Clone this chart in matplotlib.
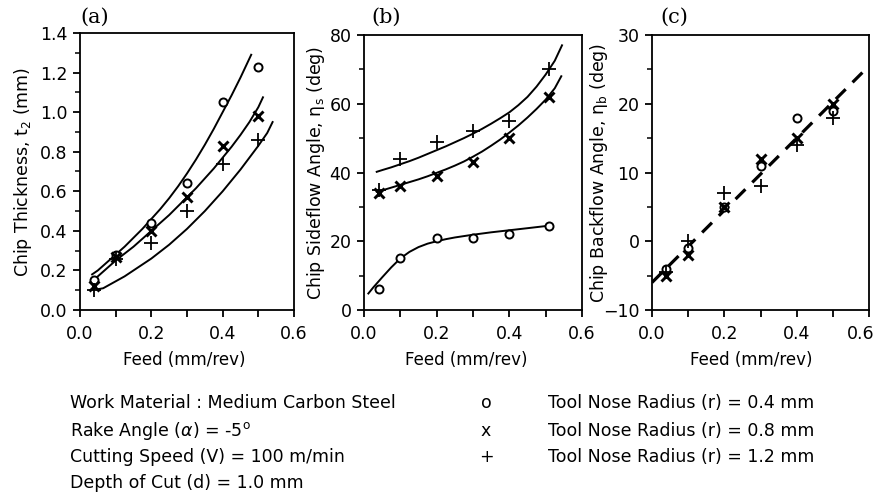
import matplotlib
matplotlib.use("Agg")
import matplotlib.pyplot as plt
import matplotlib.transforms as mtransforms
from matplotlib.ticker import MultipleLocator, FixedLocator, FixedFormatter, FuncFormatter

plt.rcParams['font.family'] = ['DejaVu Sans']
plt.rcParams['lines.scale_dashes'] = False

# ---------------- data ----------------
feed = [0.04, 0.10, 0.20, 0.30, 0.40, 0.50]
feed_b = [0.04, 0.10, 0.20, 0.30, 0.40, 0.51]

# (a) chip thickness (mm)
a_r04 = [0.15, 0.28, 0.44, 0.64, 1.05, 1.23]
a_r08 = [0.12, 0.27, 0.40, 0.57, 0.83, 0.98]
a_r12 = [0.10, 0.26, 0.34, 0.50, 0.74, 0.86]
a_fit1_x = [0.034, 0.05, 0.075, 0.10, 0.125, 0.15, 0.175, 0.20, 0.225, 0.25, 0.275,
            0.30, 0.325, 0.35, 0.375, 0.40, 0.425, 0.45, 0.48]
a_fit1_y = [0.18, 0.20, 0.24, 0.28, 0.32, 0.365, 0.41, 0.46, 0.51, 0.565, 0.625,
            0.69, 0.76, 0.835, 0.915, 1.00, 1.085, 1.175, 1.29]
a_fit2_x = [0.03, 0.05, 0.075, 0.10, 0.125, 0.15, 0.175, 0.20, 0.225, 0.25, 0.275,
            0.30, 0.325, 0.35, 0.375, 0.40, 0.425, 0.45, 0.475, 0.50, 0.513]
a_fit2_y = [0.14, 0.17, 0.21, 0.25, 0.285, 0.32, 0.36, 0.40, 0.44, 0.48, 0.525,
            0.57, 0.615, 0.665, 0.715, 0.77, 0.825, 0.885, 0.95, 1.025, 1.075]
a_fit3_x = [0.05, 0.065, 0.075, 0.10, 0.125, 0.15, 0.175, 0.20, 0.225, 0.25, 0.275,
            0.30, 0.325, 0.35, 0.375, 0.40, 0.425, 0.45, 0.475, 0.50, 0.525, 0.54]
a_fit3_y = [0.105, 0.11, 0.12, 0.145, 0.17, 0.20, 0.23, 0.26, 0.295, 0.33, 0.37,
            0.41, 0.455, 0.50, 0.55, 0.60, 0.655, 0.71, 0.77, 0.83, 0.895, 0.95]

# (b) chip sideflow angle (deg)
b_r04 = [6, 15, 21, 21, 22, 24.5]
b_r08 = [34, 36, 39, 43, 50, 62]
b_r12 = [35, 44, 49, 52, 55, 70]
b_fit12_x = [0.035, 0.05, 0.075, 0.10, 0.125, 0.15, 0.175, 0.20, 0.225, 0.25, 0.275,
             0.30, 0.325, 0.35, 0.375, 0.40, 0.425, 0.45, 0.475, 0.50, 0.525, 0.545]
b_fit12_y = [40.2, 40.7, 41.5, 42.4, 43.3, 44.3, 45.4, 46.5, 47.6, 48.8, 50.0,
             51.3, 52.7, 54.2, 55.8, 57.5, 59.6, 62.0, 65.0, 68.5, 72.5, 77.0]
b_fit08_x = [0.035, 0.05, 0.075, 0.10, 0.125, 0.15, 0.175, 0.20, 0.225, 0.25, 0.275,
             0.30, 0.325, 0.35, 0.375, 0.40, 0.425, 0.45, 0.475, 0.50, 0.525, 0.543]
b_fit08_y = [34.4, 34.8, 35.6, 36.4, 37.2, 38.0, 38.9, 39.9, 40.9, 42.0, 43.2,
             44.6, 46.1, 47.8, 49.6, 51.6, 53.7, 56.0, 58.5, 61.2, 64.5, 68.0]
b_fit04_x = [0.012, 0.025, 0.05, 0.075, 0.10, 0.125, 0.15, 0.175, 0.20, 0.225, 0.25,
             0.275, 0.30, 0.35, 0.40, 0.45, 0.515]
b_fit04_y = [4.8, 6.5, 9.5, 12.4, 15.0, 16.9, 18.3, 19.3, 20.0, 20.6, 21.1,
             21.5, 21.9, 22.6, 23.2, 23.8, 24.6]

# (c) chip backflow angle (deg)
c_r04 = [-4, -1, 5, 11, 18, 19]
c_r08 = [-5, -2, 5, 12, 15, 20]
c_r12 = [-4.5, 0, 7, 8, 14, 18]
c_fit_x = [0.0, 0.6]
c_fit_y = [-6.0, 25.5]

xticks = [0.0, 0.2, 0.4, 0.6]
xticklabels = ["0.0", "0.2", "0.4", "0.6"]

# ---------------- figure ----------------
W, H = 875, 497
fig = plt.figure(figsize=(W / 100, H / 100), dpi=100)

def ax_at(l, r, t, b):
    return fig.add_axes([l / W, 1 - b / H, (r - l) / W, (b - t) / H])

axA = ax_at(80, 294, 33, 310)
axB = ax_at(364, 582, 35, 310)
axC = ax_at(652, 869, 35, 310)

lw = 1.4
mk = dict(linestyle='none', color='black')
TICKFS = 12.5

def style(ax, ylim, ymaj, ymin):
    ax.set_xlim(0, 0.6)
    ax.set_ylim(*ylim)
    ax.xaxis.set_major_locator(FixedLocator(xticks))
    ax.xaxis.set_major_formatter(FixedFormatter(xticklabels))
    ax.xaxis.set_minor_locator(MultipleLocator(0.1))
    ax.yaxis.set_major_locator(MultipleLocator(ymaj))
    ax.yaxis.set_minor_locator(MultipleLocator(ymin))
    ax.tick_params(which='major', direction='out', length=5, width=1.3,
                   labelsize=TICKFS, pad=4)
    ax.tick_params(axis='x', which='major', pad=5.5)
    ax.tick_params(which='minor', direction='out', length=3.5, width=1.1)
    ax.tick_params(axis='x', which='minor', length=5, width=1.3)
    for s in ax.spines.values():
        s.set_linewidth(1.3)

def markers(ax, x, o, xx, p):
    ax.plot(x, o, marker='o', markersize=5.8, markerfacecolor='white',
            markeredgewidth=1.4, **mk)
    ax.plot(x, xx, marker='x', markersize=6.5, markeredgewidth=2.1, **mk)
    ax.plot(x, p, marker='+', markersize=10, markeredgewidth=1.3, **mk)

# (a)
for fx, fy in [(a_fit1_x, a_fit1_y), (a_fit2_x, a_fit2_y), (a_fit3_x, a_fit3_y)]:
    axA.plot(fx, fy, color='black', linewidth=lw)
markers(axA, feed, a_r04, a_r08, a_r12)
style(axA, (0, 1.4), 0.2, 0.1)
axA.yaxis.set_major_formatter(FuncFormatter(lambda v, p: f"{v:.1f}"))
axA.set_ylabel(r"Chip Thickness, t$_2$ (mm)", fontsize=12.5)
axA.yaxis.set_label_coords(-0.215, 0.5)

# (b)
for fx, fy in [(b_fit12_x, b_fit12_y), (b_fit08_x, b_fit08_y), (b_fit04_x, b_fit04_y)]:
    axB.plot(fx, fy, color='black', linewidth=lw)
markers(axB, feed_b, b_r04, b_r08, b_r12)
style(axB, (0, 80), 20, 10)
axB.set_ylabel(r"Chip Sideflow Angle, η$_\mathrm{s}$ (deg)", fontsize=12.5)
axB.yaxis.set_label_coords(-0.17, 0.5)

# (c)
axC.plot(c_fit_x, c_fit_y, color='black', linewidth=2.3, dashes=(10, 7))
markers(axC, feed, c_r04, c_r08, c_r12)
style(axC, (-10, 30), 10, 5)
axC.set_ylabel(r"Chip Backflow Angle, η$_\mathrm{b}$ (deg)", fontsize=12.5)
axC.yaxis.set_label_coords(-0.195, 0.5)

# keep the last tick label of (c) inside the figure
fig.canvas.draw()
lastlab = axC.get_xticklabels()[-1]
lastlab.set_transform(lastlab.get_transform() +
                      mtransforms.ScaledTranslation(-8 / 100, 0, fig.dpi_scale_trans))

# panel labels
for xpix, lab in [(95, "(a)"), (386, "(b)"), (674, "(c)")]:
    fig.text(xpix / W, 1 - 17 / H, lab, family='DejaVu Serif', fontsize=15,
             ha='center', va='center')

# x-axis labels
for xpix in (184, 466, 751):
    fig.text(xpix / W, 1 - 360 / H, "Feed (mm/rev)", fontsize=12,
             ha='center', va='center')

# bottom notes
left_lines = ["Work Material : Medium Carbon Steel",
              r"Rake Angle ($\alpha$) = -5$^{\mathrm{o}}$",
              "Cutting Speed (V) = 100 m/min",
              "Depth of Cut (d) = 1.0 mm"]
sym_lines = ["o", "x", "+"]
right_lines = ["Tool Nose Radius (r) = 0.4 mm",
               "Tool Nose Radius (r) = 0.8 mm",
               "Tool Nose Radius (r) = 1.2 mm"]
ys = [403, 431, 457, 483]
NFS = 12.5
for s, y in zip(left_lines, ys):
    fig.text(70 / W, 1 - y / H, s, fontsize=NFS, ha='left', va='center')
for s, y in zip(sym_lines, ys):
    fig.text(486 / W, 1 - y / H, s, fontsize=NFS, ha='center', va='center')
for s, y in zip(right_lines, ys):
    fig.text(548 / W, 1 - y / H, s, fontsize=NFS, ha='left', va='center')

fig.savefig("out.png", dpi=100)
